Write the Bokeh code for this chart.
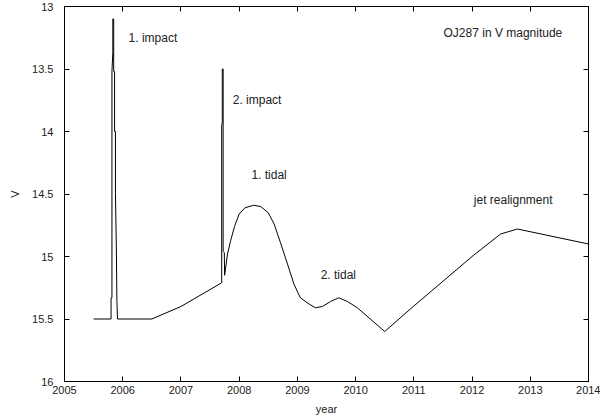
from bokeh.plotting import figure
from bokeh.models import Range1d, LinearAxis, FixedTicker, Label, CustomJSTickFormatter
from bokeh.embed import file_html
from bokeh.resources import INLINE

# Light curve of OJ287 (V magnitude)
year = [2005.50, 2005.80, 2005.80, 2005.815, 2005.815, 2005.83, 2005.83, 2005.845,
        2005.845, 2005.86, 2005.86, 2005.875, 2005.875, 2005.89, 2005.90, 2005.91,
        2006.50, 2007.00, 2007.70, 2007.70, 2007.71, 2007.71, 2007.725, 2007.725,
        2007.745, 2007.75, 2007.80, 2007.85, 2007.92, 2008.00, 2008.10, 2008.25,
        2008.37, 2008.50, 2008.60, 2008.71, 2008.83, 2008.94, 2009.05, 2009.20,
        2009.31, 2009.43, 2009.57, 2009.71, 2009.86, 2010.03, 2010.50, 2010.94,
        2012.00, 2012.49, 2012.78, 2014.00]
vmag = [15.50, 15.50, 15.33, 15.33, 13.52, 13.37, 13.10, 13.10,
        13.52, 13.52, 14.00, 14.00, 14.49, 14.91, 15.35, 15.50,
        15.50, 15.40, 15.21, 13.95, 13.93, 13.50, 13.50, 14.96,
        14.97, 15.15, 14.98, 14.88, 14.76, 14.66, 14.61, 14.59,
        14.60, 14.65, 14.74, 14.89, 15.06, 15.22, 15.33, 15.38,
        15.41, 15.40, 15.36, 15.33, 15.36, 15.41, 15.60, 15.42,
        15.00, 14.82, 14.78, 14.90]

x_ticks = [2005, 2006, 2007, 2008, 2009, 2010, 2011, 2012, 2013, 2014]
y_ticks = [13, 13.5, 14, 14.5, 15, 15.5, 16]

annotations = ["1. impact", "2. impact", "1. tidal", "2. tidal", "jet realignment",
               "OJ287 in V magnitude"]
ann_x = [2006.10, 2007.89, 2008.21, 2009.40, 2012.03, 2011.51]
ann_y = [13.25, 13.75, 14.35, 15.15, 14.55, 13.21]

FONT = "Liberation Sans"

p = figure(frame_width=524, frame_height=375, output_backend="svg", toolbar_location=None,
           x_range=Range1d(2005, 2014), y_range=Range1d(16, 13),
           min_border_left=64, min_border_right=12, min_border_top=6,
           min_border_bottom=34, background_fill_color="white",
           border_fill_color="white")
p.outline_line_color = "black"
p.outline_line_width = 1
p.xgrid.visible = False
p.ygrid.visible = False

p.line(year, vmag, line_color="black", line_width=1)

def style(ax, ticks, show_labels=True):
    ax.ticker = FixedTicker(ticks=ticks)
    ax.major_tick_in = 5
    ax.major_tick_out = 0
    ax.minor_tick_in = 0
    ax.minor_tick_out = 0
    ax.axis_line_color = "black"
    ax.major_tick_line_color = "black"
    ax.major_label_text_font = FONT
    ax.major_label_text_font_size = "11px"
    ax.major_label_text_color = "#222222"
    ax.axis_label_text_font = FONT
    ax.axis_label_text_font_size = "11px"
    ax.axis_label_text_font_style = "normal"
    ax.axis_label_text_color = "#222222"
    if not show_labels:
        ax.formatter = CustomJSTickFormatter(code="return '';")
        ax.major_label_standoff = 0

style(p.xaxis[0], x_ticks)
style(p.yaxis[0], y_ticks)
p.xaxis[0].axis_label = "year"
p.xaxis[0].major_label_standoff = 4
p.xaxis[0].axis_label_standoff = 6
p.yaxis[0].axis_label = "V"
p.yaxis[0].major_label_standoff = 11
p.yaxis[0].axis_label_standoff = 8
p.yaxis[0].formatter.use_scientific = False

top = LinearAxis()
style(top, x_ticks, show_labels=False)
p.add_layout(top, "above")
right = LinearAxis()
style(right, y_ticks, show_labels=False)
p.add_layout(right, "right")

for t, x, y in zip(annotations, ann_x, ann_y):
    p.add_layout(Label(x=x, y=y, text=t, text_font=FONT, text_font_size="12px",
                       text_color="#222222", text_baseline="middle", text_align="left"))

open("out.html", "w").write(file_html(p, INLINE))
